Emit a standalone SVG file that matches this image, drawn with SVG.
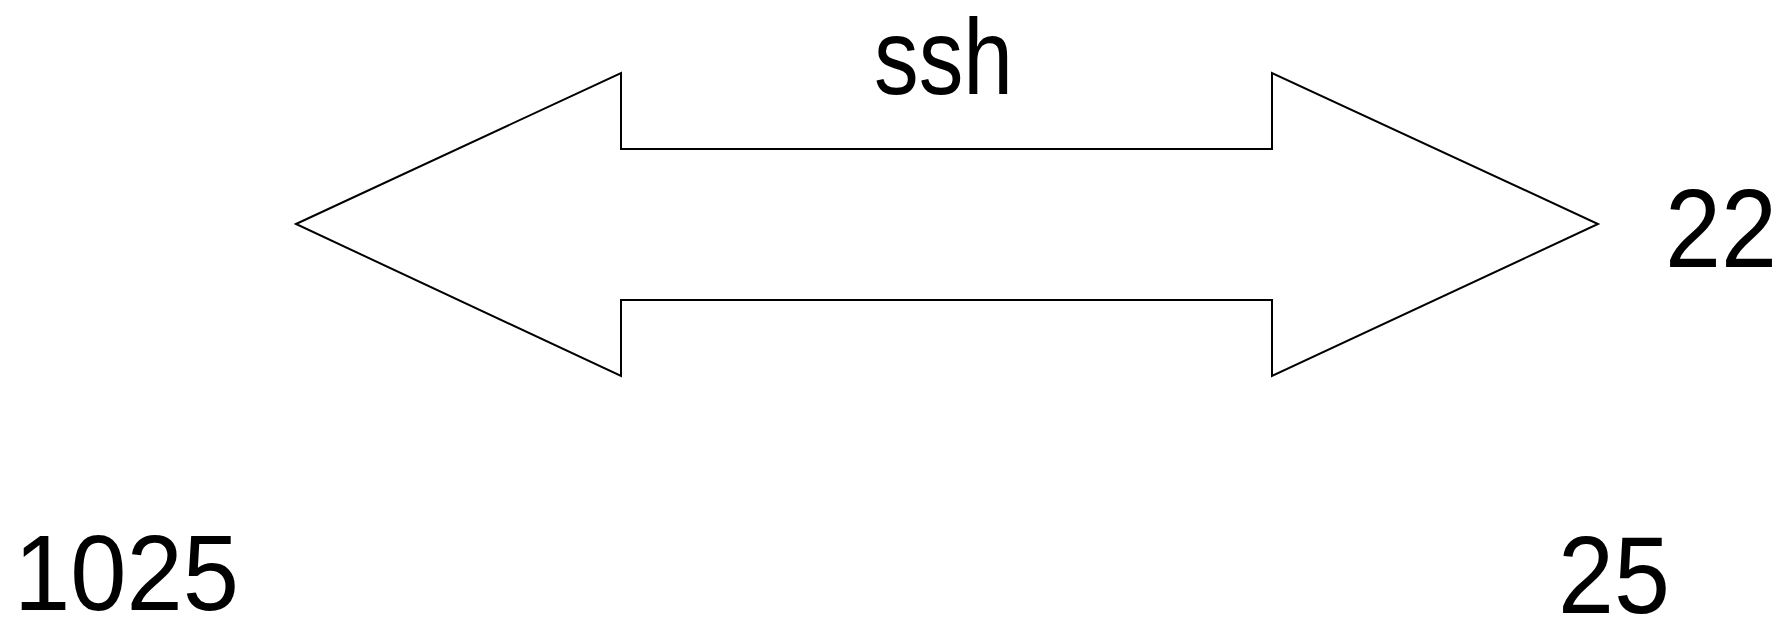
<svg xmlns="http://www.w3.org/2000/svg" width="1787" height="618" viewBox="0 0 1787 618">
<style>
.lbl{font-family:"Liberation Sans",Arial,sans-serif;fill:#000}
.shape{fill:#fff;stroke:#000;stroke-width:2;stroke-linejoin:miter}
</style>
<rect width="1787" height="618" fill="#fff"/>
<g id="arrow">
<polygon class="shape" points="296,224 621,73 621,149 1272,149 1272,73 1598,224 1272,376 1272,300 621,300 621,376"/>
</g>
<g id="connectors"></g>
<g id="label-ssh"><text class="lbl" x="874" y="94" font-size="108" textLength="139" lengthAdjust="spacingAndGlyphs">ssh</text></g>
<g id="label-22"><text class="lbl" x="1665" y="267" font-size="112" textLength="112" lengthAdjust="spacingAndGlyphs">22</text></g>
<g id="label-1025"><text class="lbl" x="14" y="610" font-size="108" textLength="225" lengthAdjust="spacingAndGlyphs">1025</text></g>
<g id="label-25"><text class="lbl" x="1558" y="613" font-size="110" textLength="112" lengthAdjust="spacingAndGlyphs">25</text></g>
</svg>
